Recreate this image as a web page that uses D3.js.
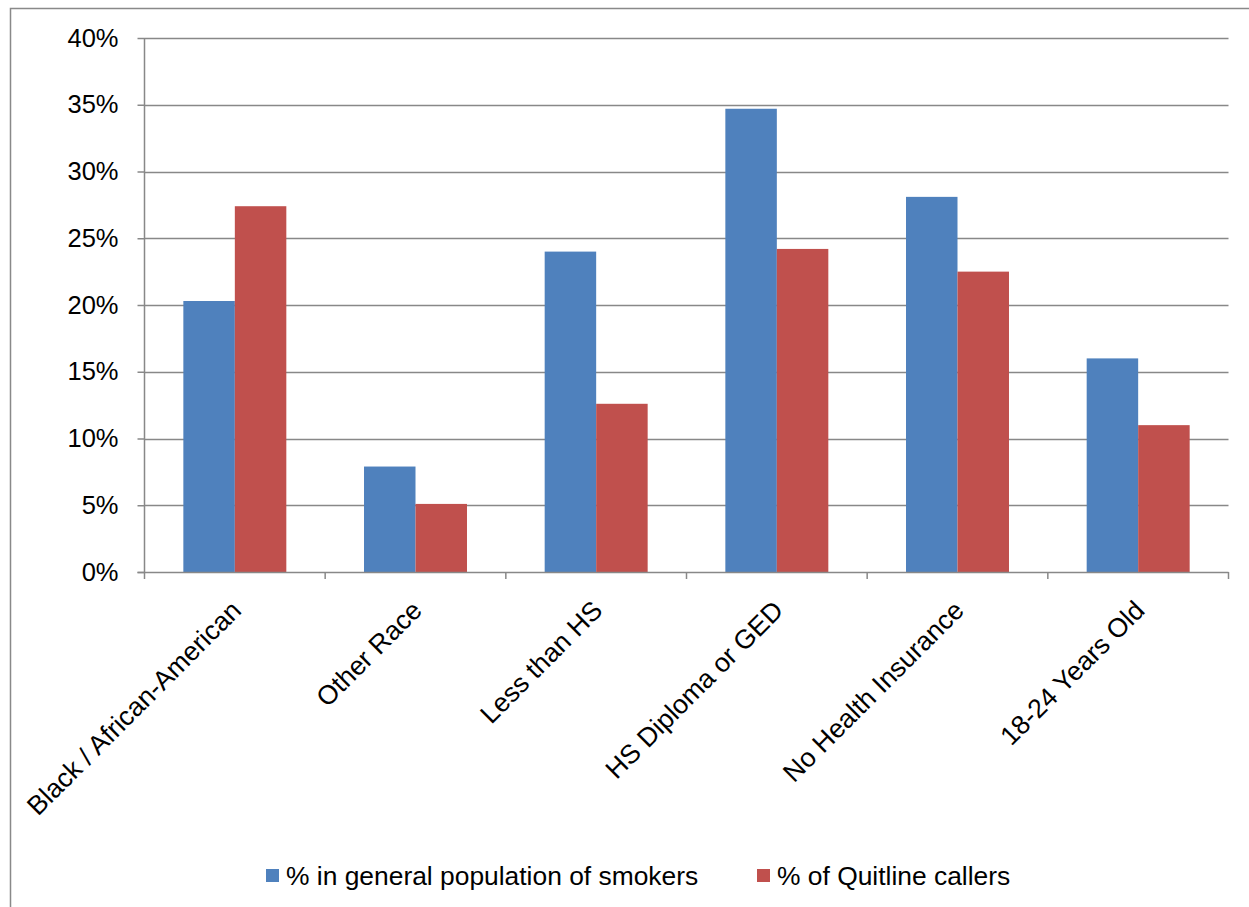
<!DOCTYPE html>
<html>
<head>
<meta charset="utf-8">
<script src="https://cdn.jsdelivr.net/npm/d3@7/dist/d3.min.js"></script>
<style>
  html, body { margin: 0; padding: 0; background: #fff; }
  svg { display: block; font-family: "Liberation Sans", Arial, sans-serif; }
</style>
</head>
<body>
<svg id="chart" width="1249" height="907"></svg>
<script>
const categories = ["Black / African-American", "Other Race", "Less than HS", "HS Diploma or GED", "No Health Insurance", "18-24 Years Old"];
const seriesNames = ["% in general population of smokers", "% of Quitline callers"];
const generalPopulation = [20.3, 7.9, 24.0, 34.7, 28.1, 16.0];
const quitlineCallers = [27.4, 5.1, 12.6, 24.2, 22.5, 11.0];
const yTicks = [0, 5, 10, 15, 20, 25, 30, 35, 40];
const colors = ["#4f81bd", "#c0504d"];

const svg = d3.select("#chart");

// outer chart frame
svg.append("rect")
  .attr("x", 10.5).attr("y", 8.5)
  .attr("width", 1260).attr("height", 920)
  .attr("fill", "none").attr("stroke", "#898989").attr("stroke-width", 1.5);

const plot = { left: 144.5, right: 1228.5, top: 38, bottom: 572 };

const x = d3.scaleBand().domain(categories).range([plot.left, plot.right]).paddingInner(0.43).paddingOuter(0.215);
const xCat = d3.scaleBand().domain(categories).range([plot.left, plot.right]);
const xSeries = d3.scaleBand().domain([0, 1]).range([0, x.bandwidth()]);
const y = d3.scaleLinear().domain([0, 40]).range([plot.bottom, plot.top]);

// horizontal gridlines
svg.append("g").selectAll("line").data(yTicks.filter(t => t > 0)).join("line")
  .attr("x1", plot.left).attr("x2", plot.right)
  .attr("y1", d => Math.round(y(d)) + 0.5).attr("y2", d => Math.round(y(d)) + 0.5)
  .attr("stroke", "#888").attr("stroke-width", 1.5);

// bars
const rows = categories.map((c, i) => ({ c, v: [generalPopulation[i], quitlineCallers[i]] }));
const groups = svg.append("g").selectAll("g").data(rows).join("g")
  .attr("transform", d => `translate(${x(d.c)},0)`);
groups.selectAll("rect").data(d => d.v.map((v, s) => ({ v, s }))).join("rect")
  .attr("x", d => xSeries(d.s))
  .attr("width", xSeries.bandwidth())
  .attr("y", d => y(d.v))
  .attr("height", d => y(0) - y(d.v))
  .attr("fill", d => colors[d.s]);

// y axis
const yAxis = svg.append("g").attr("transform", `translate(${plot.left},0)`)
  .call(d3.axisLeft(y).tickValues(yTicks).tickFormat(d => d + "%").tickSize(7).tickPadding(19));
yAxis.select(".domain").attr("stroke", "#888").attr("stroke-width", 1.5).attr("d", `M0,${plot.top}V${plot.bottom}`);
yAxis.selectAll(".tick line").attr("stroke", "#888").attr("stroke-width", 1.5);
yAxis.selectAll(".tick text").attr("font-size", 25.5).attr("fill", "#000")
  .attr("font-family", "'Liberation Sans', Arial, sans-serif");

// x axis with tick marks at category boundaries
const xAxisG = svg.append("g").attr("transform", `translate(0,${plot.bottom})`);
xAxisG.append("line").attr("x1", plot.left - 7).attr("x2", plot.right)
  .attr("y1", 0.5).attr("y2", 0.5).attr("stroke", "#888").attr("stroke-width", 1.5);
const boundaries = categories.map(c => xCat(c)).concat([plot.right]);
xAxisG.selectAll("line.b").data(boundaries).join("line").attr("class", "b")
  .attr("x1", d => d).attr("x2", d => d).attr("y1", 0).attr("y2", 7)
  .attr("stroke", "#888").attr("stroke-width", 1.5);

// rotated category labels
svg.append("g").selectAll("text").data(categories).join("text")
  .attr("transform", d => `translate(${xCat(d) + xCat.bandwidth() / 2 + 8},${plot.bottom + 40}) rotate(-45)`)
  .attr("text-anchor", "end")
  .attr("font-size", 26.6)
  .attr("fill", "#000")
  .text(d => d);

// legend
const legendItems = [{ name: seriesNames[0], x: 266 }, { name: seriesNames[1], x: 757 }];
const legend = svg.append("g").selectAll("g").data(legendItems).join("g")
  .attr("transform", d => `translate(${d.x},869)`);
legend.append("rect").attr("width", 13).attr("height", 13).attr("fill", (d, i) => colors[i]);
legend.append("text").attr("x", 20).attr("y", 16).attr("font-size", 26.4).attr("fill", "#000").text(d => d.name);
</script>
</body>
</html>
